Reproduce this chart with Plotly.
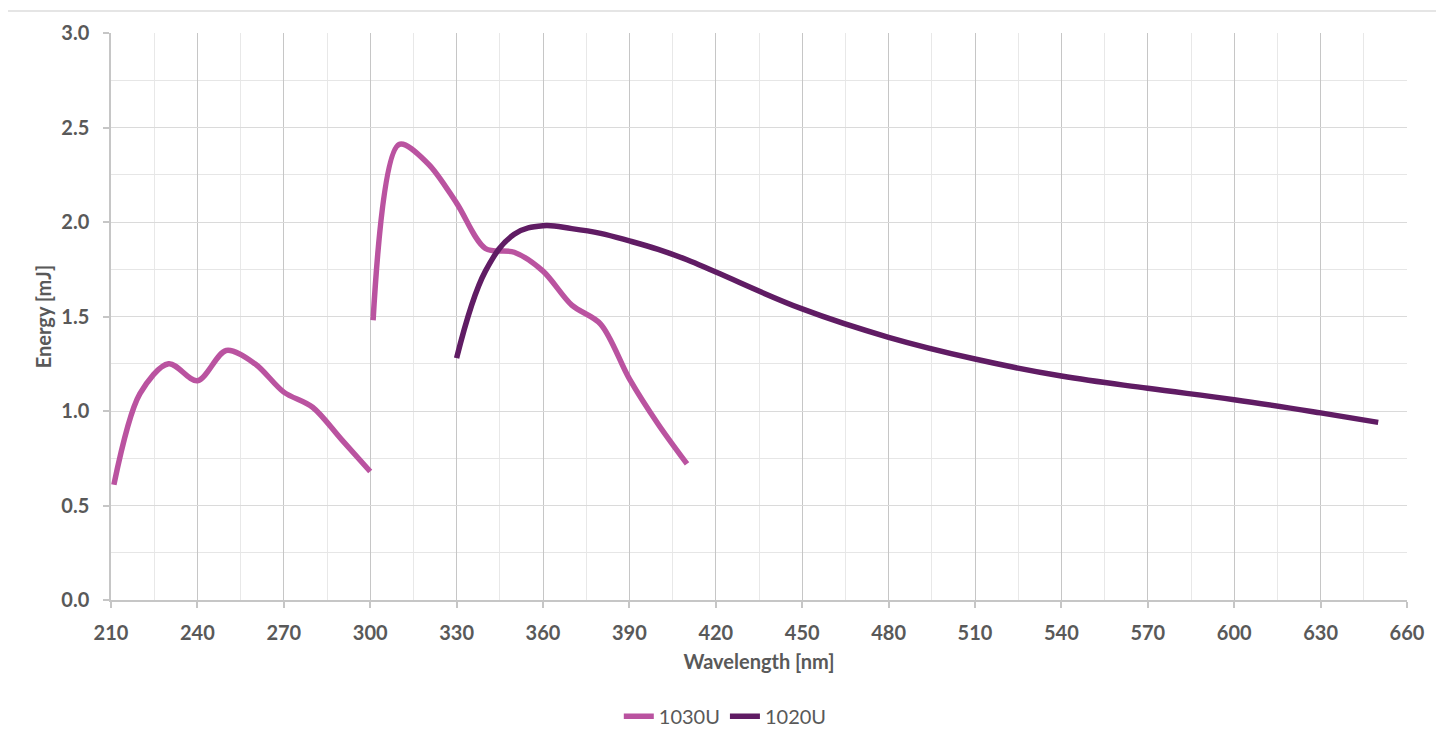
import plotly.graph_objects as go

# Data
wl_1030 = [211, 220, 230, 240, 250, 260, 270, 280, 290, 300, None,
           301, 310, 320, 330, 340, 350, 360, 370, 380, 390, 400, 410]
en_1030 = [0.61, 1.09, 1.25, 1.16, 1.32, 1.25, 1.10, 1.02, 0.85, 0.68, None,
           1.48, 2.41, 2.31, 2.10, 1.86, 1.84, 1.74, 1.56, 1.46, 1.17, 0.93, 0.72]

wl_1020 = [330, 340, 350, 360, 370, 380, 390, 400, 410, 420, 450, 480, 510, 540, 570, 600, 630, 650]
en_1020 = [1.28, 1.74, 1.935, 1.98, 1.965, 1.94, 1.90, 1.855, 1.80, 1.735, 1.54, 1.39, 1.275, 1.185, 1.12, 1.06, 0.99, 0.94]

x_ticks = list(range(210, 661, 30))
y_ticks = [0.0, 0.5, 1.0, 1.5, 2.0, 2.5, 3.0]

FONT = "Lato"
TXT = "#595959"

fig = go.Figure()
fig.add_trace(go.Scatter(x=wl_1030, y=en_1030, name="1030U", mode="lines",
                         line=dict(color="#BA53A0", width=5.5, shape="spline", smoothing=0.9),
                         connectgaps=False))
fig.add_trace(go.Scatter(x=wl_1020, y=en_1020, name="1020U", mode="lines",
                         line=dict(color="#601C64", width=5.5, shape="spline", smoothing=1.1)))

fig.update_layout(
    width=1444, height=740,
    margin=dict(l=103, r=45, t=16, b=147),
    paper_bgcolor="white", plot_bgcolor="white",
    font=dict(family=FONT, color=TXT, size=20),
    showlegend=True,
    legend=dict(orientation="h", x=0.474, xanchor="center", y=-0.205, yanchor="middle",
                font=dict(family=FONT, size=20, color=TXT), itemwidth=30, tracegroupgap=0),
    xaxis=dict(
        range=[210, 660], tickmode="array", tickvals=x_ticks,
        ticktext=[str(v) for v in x_ticks],
        showgrid=True, gridcolor="#c6c6c6", gridwidth=1.3,
        minor=dict(dtick=15, tick0=210, showgrid=True, gridcolor="#e8e8e8", gridwidth=1.3),
        showline=True, linecolor="#c6c6c6", linewidth=1.5,
        ticks="outside", ticklen=6, tickcolor="#c6c6c6", tickwidth=1.5,
        ticklabelstandoff=8,
        tickfont=dict(family=FONT, size=20, color=TXT, weight="bold"),
        title=dict(text="Wavelength [nm]", standoff=12,
                   font=dict(family=FONT, size=20, color=TXT, weight="bold")),
        zeroline=False,
    ),
    yaxis=dict(
        range=[0, 3.0], tickmode="array", tickvals=y_ticks,
        ticktext=[f"{v:.1f}" for v in y_ticks],
        showgrid=True, gridcolor="#dadada", gridwidth=1.3,
        minor=dict(dtick=0.25, tick0=0, showgrid=True, gridcolor="#e6e6e6", gridwidth=1.3),
        showline=True, linecolor="#c6c6c6", linewidth=1.5,
        ticks="outside", ticklen=6, tickcolor="#c6c6c6", tickwidth=1.5,
        ticklabelstandoff=10,
        tickfont=dict(family=FONT, size=20, color=TXT, weight="bold"),
        title=dict(text="Energy [mJ]", standoff=4,
                   font=dict(family=FONT, size=20, color=TXT, weight="bold")),
        zeroline=False,
    ),
)

# chart frame border (light) like the reference container
fig.add_shape(type="line", xref="paper", yref="paper",
              x0=(6 - 111) / 1296, x1=(1444 - 111) / 1296,
              y0=(598 - 7) / 569, y1=(598 - 7) / 569,
              line=dict(color="#dcdcdc", width=1.5))
fig.add_shape(type="line", xref="paper", yref="paper",
              x0=(6 - 111) / 1296, x1=(6 - 111) / 1296,
              y0=(598 - 7) / 569, y1=(598 - 740) / 569,
              line=dict(color="#dcdcdc", width=1.5))

fig.write_html("out.html")
